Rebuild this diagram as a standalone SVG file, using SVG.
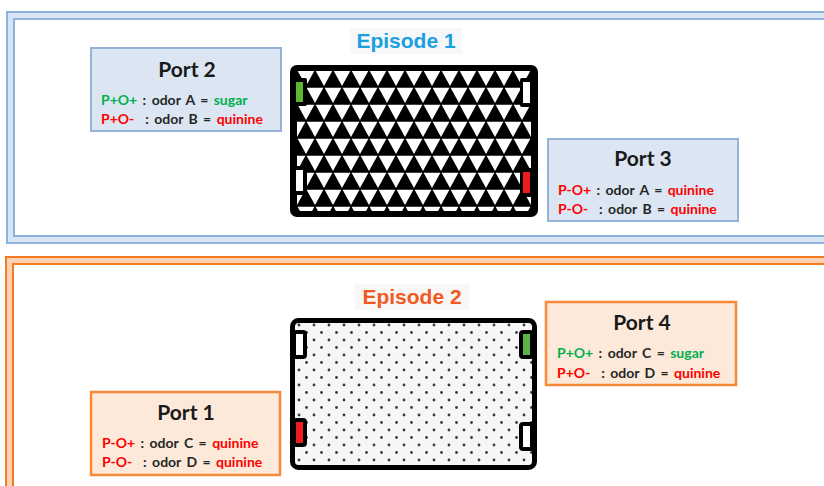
<svg xmlns="http://www.w3.org/2000/svg" width="824" height="486" viewBox="0 0 824 486">
<defs>
<style>
.frameB{fill:none;stroke:#8eb2de;stroke-width:2}
.bandB{fill:none;stroke:#d9e5f4;stroke-width:5}
.frameO{fill:none;stroke:#f47b22;stroke-width:2}
.bandO{fill:none;stroke:#fcd2b3;stroke-width:5}
.boxB{fill:#dce6f2;stroke:#95b3d7;stroke-width:2}
.boxO{fill:#fde9d9;stroke:#f68a3a;stroke-width:2.5}
.title{font-family:Lato,"Liberation Sans",sans-serif;font-weight:bold;font-size:21px;fill:#1a1a1a;text-anchor:middle}
.line{font-family:Lato,"Liberation Sans",sans-serif;font-weight:bold;font-size:14px;fill:#262626;word-spacing:2px}
.g{fill:#00b050}
.r{fill:#ff0000}
.ep{font-family:"Liberation Sans",Arial,sans-serif;font-weight:bold;font-size:21px;text-anchor:middle}
</style>
<pattern id="tri" patternUnits="userSpaceOnUse" x="297" y="70" width="18" height="34">
<rect width="18" height="34" fill="#000"/>
<polygon points="0.6,0.8 17.4,0.8 9,16" fill="#fff"/>
<polygon points="-8.4,17.8 8.4,17.8 0,33" fill="#fff"/>
<polygon points="9.6,17.8 26.4,17.8 18,33" fill="#fff"/>
</pattern>
<pattern id="dots" patternUnits="userSpaceOnUse" x="296" y="322" width="15" height="15">
<rect width="15" height="15" fill="#f6f6f6"/>
<circle cx="3" cy="3" r="1.4" fill="#3a3a3a"/>
<circle cx="10.5" cy="10.5" r="1.4" fill="#3a3a3a"/>
</pattern>
</defs>
<rect width="824" height="486" fill="#fff"/>

<g id="episode1">
<rect x="10.5" y="15.5" width="830" height="224" class="bandB"/>
<rect x="7" y="12" width="837" height="231" class="frameB"/>
<rect x="14" y="19" width="823" height="217" class="frameB"/>
<rect x="350" y="28" width="112" height="26" fill="#f6f7f9"/>
<text x="406" y="48" class="ep" fill="#1aa0e0">Episode 1</text>
</g>

<g id="episode2">
<rect x="9.5" y="260.5" width="830" height="240" class="bandO"/>
<rect x="6" y="257" width="837" height="247" class="frameO"/>
<rect x="13" y="264" width="823" height="233" class="frameO"/>
<rect x="355" y="284" width="114" height="26" fill="#f9f7f6"/>
<text x="412" y="304" class="ep" fill="#f15a22">Episode 2</text>
</g>

<g id="arena1">
<rect x="290" y="65" width="248" height="152" rx="7" fill="#000"/>
<rect x="297" y="71" width="234" height="140" fill="url(#tri)"/>
<rect x="293" y="78" width="14" height="28" rx="2" fill="#000"/>
<rect x="296" y="82" width="7" height="20" fill="#5db82f"/>
<rect x="520" y="78" width="14" height="29" rx="2" fill="#000"/>
<rect x="523" y="82" width="7" height="21" fill="#fff"/>
<rect x="293" y="166" width="14" height="29" rx="2" fill="#000"/>
<rect x="296" y="170" width="7" height="21" fill="#fff"/>
<rect x="520" y="168" width="14" height="29" rx="2" fill="#000"/>
<rect x="523" y="172" width="7" height="21" fill="#ee1c1c"/>
</g>

<g id="arena2">
<rect x="292.5" y="320.5" width="242" height="147" rx="6" fill="url(#dots)" stroke="#000" stroke-width="5"/>
<rect x="292" y="330" width="15" height="29" rx="4" fill="#000"/>
<rect x="296" y="334" width="7" height="21" fill="#fff"/>
<rect x="519" y="330" width="15" height="29" rx="4" fill="#000"/>
<rect x="523" y="334" width="7" height="21" fill="#5db346"/>
<rect x="292" y="418" width="15" height="29" rx="4" fill="#000"/>
<rect x="296" y="422" width="7" height="21" fill="#ee1c1c"/>
<rect x="519" y="422" width="15" height="29" rx="4" fill="#000"/>
<rect x="523" y="426" width="7" height="21" fill="#fff"/>
</g>

<g id="port2">
<rect x="91" y="48" width="190" height="83" class="boxB"/>
<text x="187" y="77" class="title">Port 2</text>
<text x="101" y="105" class="line" xml:space="preserve"><tspan class="g">P+O+</tspan> : odor A = <tspan class="g">sugar</tspan></text>
<text x="101" y="124" class="line" xml:space="preserve"><tspan class="r">P+O-</tspan>  : odor B = <tspan class="r">quinine</tspan></text>
</g>

<g id="port3">
<rect x="548" y="139" width="190" height="82" class="boxB"/>
<text x="643" y="166" class="title">Port 3</text>
<text x="558" y="195" class="line" xml:space="preserve"><tspan class="r">P-O+</tspan> : odor A = <tspan class="r">quinine</tspan></text>
<text x="558" y="214" class="line" xml:space="preserve"><tspan class="r">P-O-</tspan>  : odor B = <tspan class="r">quinine</tspan></text>
</g>

<g id="port4">
<rect x="546" y="302" width="190" height="83" class="boxO"/>
<text x="642" y="330" class="title">Port 4</text>
<text x="557" y="358" class="line" xml:space="preserve"><tspan class="g">P+O+</tspan> : odor C = <tspan class="g">sugar</tspan></text>
<text x="557" y="378" class="line" xml:space="preserve"><tspan class="r">P+O-</tspan>  : odor D = <tspan class="r">quinine</tspan></text>
</g>

<g id="port1">
<rect x="91" y="392" width="189" height="83" class="boxO"/>
<text x="186" y="420" class="title">Port 1</text>
<text x="102" y="448" class="line" xml:space="preserve"><tspan class="r">P-O+</tspan> : odor C = <tspan class="r">quinine</tspan></text>
<text x="102" y="467" class="line" xml:space="preserve"><tspan class="r">P-O-</tspan>  : odor D = <tspan class="r">quinine</tspan></text>
</g>

<g id="connectors"></g>
</svg>
